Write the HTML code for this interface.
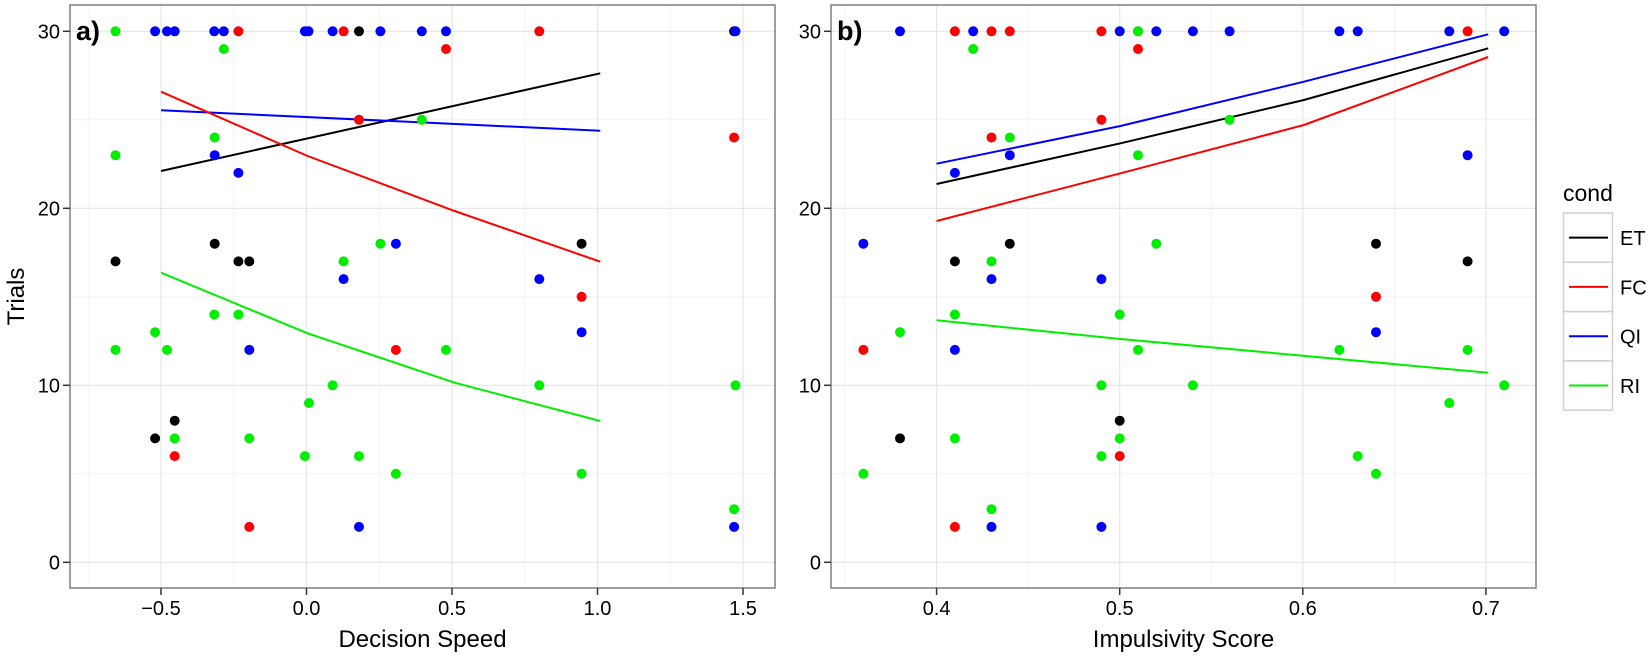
<!DOCTYPE html>
<html><head><meta charset="utf-8">
<style>
html,body{margin:0;padding:0;background:#fff;}
svg{display:block;font-family:"Liberation Sans",Arial,sans-serif;}
</style></head>
<body>
<svg id="s" width="1650" height="656" xmlns="http://www.w3.org/2000/svg"></svg>
<script>
const S=document.getElementById('s');
let h='';
const C={k:'#000000',r:'#ff0000',b:'#0000ff',g:'#00ee00'};
const Y=v=>562.3-v*17.7;
const AL=70,AR=775,T=5,B=588;
const AX=v=>306.5+v*291;
const BL=831,BR=1536;
const BX=v=>936.6+(v-0.4)*1831;
function panel(L,R,majX,minX){
  h+=`<rect x="${L}" y="${T}" width="${R-L}" height="${B-T}" fill="#fff"/>`;
  for(const v of [5,15,25]) h+=`<line x1="${L}" x2="${R}" y1="${Y(v)}" y2="${Y(v)}" stroke="#f3f3f3" stroke-width="1"/>`;
  for(const x of minX) h+=`<line x1="${x}" x2="${x}" y1="${T}" y2="${B}" stroke="#f3f3f3" stroke-width="1"/>`;
  for(const v of [0,10,20,30]) h+=`<line x1="${L}" x2="${R}" y1="${Y(v)}" y2="${Y(v)}" stroke="#e6e6e6" stroke-width="1.2"/>`;
  for(const x of majX) h+=`<line x1="${x}" x2="${x}" y1="${T}" y2="${B}" stroke="#e6e6e6" stroke-width="1.2"/>`;
}
panel(AL,AR,[-0.5,0,0.5,1,1.5].map(AX),[-0.75,-0.25,0.25,0.75,1.25].map(AX));
panel(BL,BR,[0.4,0.5,0.6,0.7].map(BX),[0.35,0.45,0.55,0.65].map(BX));
function pl(pts,c){h+=`<polyline points="${pts.map(p=>p.join(',')).join(' ')}" fill="none" stroke="${c}" stroke-width="2"/>`;}
const az=z=>70+z/2.197;
pl([[az(200),171],[az(1165),73.3]],C.k);
pl([[az(200),110.3],[az(1165),130.7]],C.b);
pl([[az(200),91.7],[az(522),156],[az(845),211],[az(1165),261.7]],C.r);
pl([[az(200),272.7],[az(522),333.3],[az(845),382.7],[az(1165),421]],C.g);
const bz=z=>820+z/2.17;
pl([[bz(253),163.7],[bz(652),126],[bz(1050),81.7],[bz(1450),34.3]],C.b);
pl([[bz(253),184],[bz(652),143.3],[bz(1050),100],[bz(1450),48.3]],C.k);
pl([[bz(253),221],[bz(652),173.3],[bz(1050),125],[bz(1450),57]],C.r);
pl([[bz(253),320.3],[bz(652),339],[bz(1450),372.7]],C.g);
const PA=[
[100,30,'g'],[187,30,'b'],[213,30,'b'],[230,30,'b'],[317,30,'b'],[338,30,'b'],[370,30,'r'],[516,30,'b'],[524,30,'b'],[577,30,'b'],[601,30,'r'],[635,30,'k'],[682,30,'b'],[773,30,'b'],[826,30,'b'],[1031,30,'r'],[1459,30,'k'],[1462,30,'b'],
[338,29,'g'],[826,29,'r'],[635,25,'r'],[773,25,'g'],[318,24,'g'],[1459,24,'r'],[100,23,'g'],[318,23,'b'],[370,22,'b'],
[318,18,'k'],[682,18,'g'],[716,18,'b'],[1124,18,'k'],[100,17,'k'],[370,17,'k'],[394,17,'k'],[601,17,'g'],[601,16,'b'],[1031,16,'b'],[1124,15,'r'],
[317,14,'g'],[370,14,'g'],[187,13,'g'],[1124,13,'b'],[100,12,'g'],[213,12,'g'],[394,12,'b'],[716,12,'r'],[826,12,'g'],
[577,10,'g'],[1031,10,'g'],[1462,10,'g'],[525,9,'g'],[230,8,'k'],[187,7,'k'],[230,7,'g'],[394,7,'g'],[230,6,'r'],[516,6,'g'],[635,6,'g'],
[716,5,'g'],[1124,5,'g'],[1459,3,'g'],[394,2,'r'],[635,2,'b'],[1459,2,'b']];
for(const [z,v,c] of PA) h+=`<circle cx="${az(z).toFixed(1)}" cy="${Y(v).toFixed(1)}" r="5" fill="${C[c]}"/>`;
const PB=[
[0.38,30,'b'],[0.41,30,'r'],[0.42,30,'b'],[0.43,30,'r'],[0.44,30,'r'],[0.49,30,'r'],[0.50,30,'b'],[0.51,30,'r'],[0.51,30,'g'],[0.52,30,'b'],[0.54,30,'b'],[0.56,30,'b'],[0.62,30,'b'],[0.63,30,'b'],[0.68,30,'b'],[0.69,30,'r'],[0.71,30,'b'],
[0.42,29,'g'],[0.51,29,'r'],[0.49,25,'r'],[0.56,25,'g'],[0.43,24,'r'],[0.44,24,'g'],[0.44,23,'b'],[0.51,23,'g'],[0.69,23,'b'],[0.41,22,'b'],
[0.36,18,'b'],[0.44,18,'k'],[0.52,18,'g'],[0.64,18,'k'],[0.41,17,'k'],[0.43,17,'g'],[0.69,17,'k'],[0.43,16,'b'],[0.49,16,'b'],[0.64,15,'r'],
[0.41,14,'g'],[0.50,14,'g'],[0.38,13,'g'],[0.64,13,'b'],[0.36,12,'r'],[0.41,12,'b'],[0.51,12,'g'],[0.62,12,'g'],[0.69,12,'g'],
[0.49,10,'g'],[0.54,10,'g'],[0.71,10,'g'],[0.68,9,'g'],[0.50,8,'k'],[0.38,7,'k'],[0.41,7,'g'],[0.50,7,'g'],[0.49,6,'g'],[0.50,6,'r'],[0.63,6,'g'],
[0.36,5,'g'],[0.64,5,'g'],[0.43,3,'g'],[0.41,2,'r'],[0.43,2,'b'],[0.49,2,'b']];
for(const [v,y,c] of PB) h+=`<circle cx="${BX(v).toFixed(1)}" cy="${Y(y).toFixed(1)}" r="5" fill="${C[c]}"/>`;
h+=`<rect x="${AL}" y="${T}" width="${AR-AL}" height="${B-T}" fill="none" stroke="#7f7f7f" stroke-width="1.5"/>`;
h+=`<rect x="${BL}" y="${T}" width="${BR-BL}" height="${B-T}" fill="none" stroke="#7f7f7f" stroke-width="1.5"/>`;
for(const L of [AL,BL]) for(const v of [0,10,20,30]){
  h+=`<line x1="${L-7}" x2="${L}" y1="${Y(v)}" y2="${Y(v)}" stroke="#333" stroke-width="1.5"/>`;
  h+=`<text x="${L-10}" y="${Y(v)+7}" font-size="20" text-anchor="end" fill="#000">${v}</text>`;
}
const ta=[[-0.5,'\u22120.5'],[0,'0.0'],[0.5,'0.5'],[1,'1.0'],[1.5,'1.5']];
for(const [v,t] of ta){const x=AX(v);h+=`<line x1="${x}" x2="${x}" y1="${B}" y2="${B+7}" stroke="#333" stroke-width="1.5"/><text x="${x}" y="${B+27}" font-size="20" text-anchor="middle">${t}</text>`;}
for(const v of [0.4,0.5,0.6,0.7]){const x=BX(v);h+=`<line x1="${x}" x2="${x}" y1="${B}" y2="${B+7}" stroke="#333" stroke-width="1.5"/><text x="${x}" y="${B+27}" font-size="20" text-anchor="middle">${v.toFixed(1)}</text>`;}
h+=`<text x="${(AL+AR)/2}" y="647" font-size="24" text-anchor="middle">Decision Speed</text>`;
h+=`<text x="${(BL+BR)/2}" y="647" font-size="24" text-anchor="middle">Impulsivity Score</text>`;
h+=`<text transform="translate(24,${(T+B)/2}) rotate(-90)" font-size="24" text-anchor="middle">Trials</text>`;
h+=`<text x="76" y="40" font-size="27" font-weight="bold">a)</text>`;
h+=`<text x="837" y="40" font-size="27" font-weight="bold">b)</text>`;
h+=`<text x="1563" y="201" font-size="23">cond</text>`;
const ly=[213,262.3,311.6,360.9];const lc=['k','r','b','g'];const ln=['ET','FC','QI','RI'];
for(let i=0;i<4;i++){
  h+=`<rect x="1563.5" y="${ly[i]}" width="49" height="49.3" fill="#fff" stroke="#d0d0d0" stroke-width="1.5"/>`;
  h+=`<line x1="1569" x2="1608" y1="${ly[i]+24.6}" y2="${ly[i]+24.6}" stroke="${C[lc[i]]}" stroke-width="2"/>`;
  h+=`<text x="1620" y="${ly[i]+32}" font-size="20">${ln[i]}</text>`;
}
S.innerHTML=h;
</script>
</body></html>
